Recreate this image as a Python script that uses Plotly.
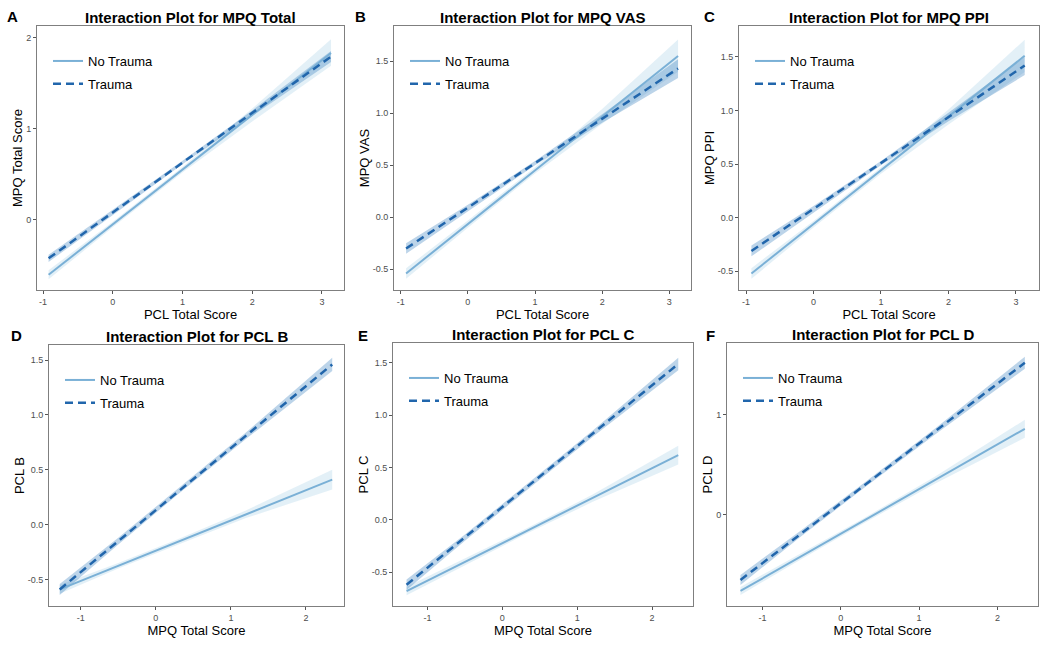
import plotly.graph_objects as go

# values (fitted lines and 95% bands, 5 points per panel)
x_pcl = [-0.92, 0.0, 1.0, 2.0, 3.13]
x_mpq = [-1.28, -0.5, 0.3, 1.2, 2.35]

# A: MPQ Total
a_nt = [-0.60, -0.05, 0.55, 1.15, 1.83]
a_nt_lo = [-0.65, -0.08, 0.52, 1.08, 1.69]
a_nt_hi = [-0.55, -0.02, 0.58, 1.22, 1.98]
a_t = [-0.42, 0.08, 0.63, 1.17, 1.79]
a_t_lo = [-0.46, 0.05, 0.61, 1.14, 1.73]
a_t_hi = [-0.38, 0.11, 0.65, 1.20, 1.85]

# B: MPQ VAS
b_nt = [-0.54, -0.065, 0.45, 0.97, 1.55]
b_nt_lo = [-0.59, -0.10, 0.42, 0.90, 1.40]
b_nt_hi = [-0.49, -0.03, 0.48, 1.04, 1.71]
b_t = [-0.30, 0.093, 0.52, 0.95, 1.43]
b_t_lo = [-0.35, 0.06, 0.50, 0.91, 1.34]
b_t_hi = [-0.25, 0.12, 0.54, 0.99, 1.52]

# C: MPQ PPI
c_nt = [-0.52, -0.059, 0.44, 0.94, 1.51]
c_nt_lo = [-0.57, -0.09, 0.41, 0.87, 1.36]
c_nt_hi = [-0.47, -0.03, 0.47, 1.01, 1.66]
c_t = [-0.31, 0.083, 0.51, 0.94, 1.42]
c_t_lo = [-0.36, 0.05, 0.49, 0.90, 1.33]
c_t_hi = [-0.26, 0.11, 0.53, 0.98, 1.50]

# D: PCL B
d_nt = [-0.59, -0.375, -0.155, 0.093, 0.41]
d_nt_lo = [-0.63, -0.40, -0.18, 0.06, 0.32]
d_nt_hi = [-0.55, -0.35, -0.13, 0.13, 0.50]
d_t = [-0.59, -0.149, 0.303, 0.81, 1.46]
d_t_lo = [-0.64, -0.18, 0.28, 0.78, 1.40]
d_t_hi = [-0.54, -0.12, 0.33, 0.84, 1.52]

# E: PCL C
e_nt = [-0.68, -0.40, -0.114, 0.208, 0.62]
e_nt_lo = [-0.72, -0.43, -0.14, 0.17, 0.53]
e_nt_hi = [-0.64, -0.37, -0.09, 0.24, 0.71]
e_t = [-0.62, -0.167, 0.298, 0.82, 1.49]
e_t_lo = [-0.67, -0.20, 0.27, 0.79, 1.43]
e_t_hi = [-0.57, -0.14, 0.33, 0.85, 1.55]

# F: PCL D
f_nt = [-0.76, -0.412, -0.055, 0.347, 0.86]
f_nt_lo = [-0.80, -0.44, -0.08, 0.31, 0.77]
f_nt_hi = [-0.72, -0.38, -0.03, 0.38, 0.95]
f_t = [-0.65, -0.183, 0.295, 0.833, 1.52]
f_t_lo = [-0.70, -0.21, 0.27, 0.80, 1.46]
f_t_hi = [-0.60, -0.15, 0.32, 0.86, 1.58]

# tick labels (ggplot style hyphen minus)
xt_pcl = [-1, 0, 1, 2, 3]
xt_pcl_lab = ["-1", "0", "1", "2", "3"]
xt_mpq = [-1, 0, 1, 2]
xt_mpq_lab = ["-1", "0", "1", "2"]
yt_int = [0, 1, 2]
yt_int_lab = ["0", "1", "2"]
yt_half = [-0.5, 0, 0.5, 1, 1.5]
yt_half_lab = ["-0.5", "0.0", "0.5", "1.0", "1.5"]
yt_f = [0, 1]
yt_f_lab = ["0", "1"]

panels = [
    ("A", "Interaction Plot for MPQ Total", "PCL Total Score", "MPQ Total Score", x_pcl,
     a_nt, a_nt_lo, a_nt_hi, a_t, a_t_lo, a_t_hi, xt_pcl, xt_pcl_lab, yt_int, yt_int_lab),
    ("B", "Interaction Plot for MPQ VAS", "PCL Total Score", "MPQ VAS", x_pcl,
     b_nt, b_nt_lo, b_nt_hi, b_t, b_t_lo, b_t_hi, xt_pcl, xt_pcl_lab, yt_half, yt_half_lab),
    ("C", "Interaction Plot for MPQ PPI", "PCL Total Score", "MPQ PPI", x_pcl,
     c_nt, c_nt_lo, c_nt_hi, c_t, c_t_lo, c_t_hi, xt_pcl, xt_pcl_lab, yt_half, yt_half_lab),
    ("D", "Interaction Plot for PCL B", "MPQ Total Score", "PCL B", x_mpq,
     d_nt, d_nt_lo, d_nt_hi, d_t, d_t_lo, d_t_hi, xt_mpq, xt_mpq_lab, yt_half, yt_half_lab),
    ("E", "Interaction Plot for PCL C", "MPQ Total Score", "PCL C", x_mpq,
     e_nt, e_nt_lo, e_nt_hi, e_t, e_t_lo, e_t_hi, xt_mpq, xt_mpq_lab, yt_half, yt_half_lab),
    ("F", "Interaction Plot for PCL D", "MPQ Total Score", "PCL D", x_mpq,
     f_nt, f_nt_lo, f_nt_hi, f_t, f_t_lo, f_t_hi, xt_mpq, xt_mpq_lab, yt_f, yt_f_lab),
]

W, H = 1050, 646
boxes = [(37, 344, 26, 290), (394, 691, 26, 290), (739, 1039, 26, 290),
         (49, 344, 345, 606), (393, 693, 343, 606), (727, 1038, 343, 606)]
xranges = [[-1.086, 3.316], [-1.10, 3.323], [-1.104, 3.342],
           [-1.423, 2.507], [-1.461, 2.547], [-1.452, 2.518]]
yranges = [[-0.767, 2.125], [-0.699, 1.839], [-0.674, 1.788],
           [-0.741, 1.637], [-0.823, 1.691], [-0.91, 1.717]]
letter_pos = [(12, 17), (360, 17), (709, 17), (16, 335), (363, 335), (710, 335)]

NT_COL = "#7ab0d6"
T_COL = "#2166ac"
NT_FILL = "rgba(107,174,214,0.19)"
T_FILL = "rgba(33,113,181,0.30)"
FONT = "Liberation Sans, Arial, sans-serif"

fig = go.Figure()
annotations = []
layout = {}

for i, p in enumerate(panels):
    (letter, title, xt, yt, xs, nt, nt_lo, nt_hi, t, t_lo, t_hi,
     xtv, xtl, ytv, ytl) = p
    n = i + 1
    xa = "x" if n == 1 else "x%d" % n
    ya = "y" if n == 1 else "y%d" % n
    leg = "legend" if n == 1 else "legend%d" % n

    # bands first
    fig.add_trace(go.Scatter(x=xs + xs[::-1], y=nt_lo + nt_hi[::-1], fill="toself",
                             fillcolor=NT_FILL, line=dict(width=0), mode="lines",
                             hoverinfo="skip", showlegend=False, xaxis=xa, yaxis=ya))
    fig.add_trace(go.Scatter(x=xs + xs[::-1], y=t_lo + t_hi[::-1], fill="toself",
                             fillcolor=T_FILL, line=dict(width=0), mode="lines",
                             hoverinfo="skip", showlegend=False, xaxis=xa, yaxis=ya))
    fig.add_trace(go.Scatter(x=xs, y=nt, mode="lines", name="No Trauma", legendgroup="nt",
                             line=dict(color=NT_COL, width=2),
                             legend=leg, xaxis=xa, yaxis=ya))
    fig.add_trace(go.Scatter(x=xs, y=t, mode="lines", name="Trauma", legendgroup="t",
                             line=dict(color=T_COL, width=2.5, dash="8px,5px"),
                             legend=leg, xaxis=xa, yaxis=ya))

    x0, x1, y0, y1 = boxes[i]
    dom_x = [x0 / W, x1 / W]
    dom_y = [1 - y1 / H, 1 - y0 / H]
    axis_common = dict(showline=True, mirror=True, linecolor="#7f7f7f", linewidth=1,
                       ticks="outside", ticklen=3, tickcolor="#555555", showgrid=False,
                       zeroline=False, tickfont=dict(size=9, color="#4d4d4d"),
                       automargin=False)
    layout["xaxis" if n == 1 else "xaxis%d" % n] = dict(
        domain=dom_x, range=xranges[i], anchor=ya, tickvals=xtv, ticktext=xtl,
        title=dict(text=xt, font=dict(size=13, color="black"), standoff=0),
        **axis_common)
    layout["yaxis" if n == 1 else "yaxis%d" % n] = dict(
        domain=dom_y, range=yranges[i], anchor=xa, tickvals=ytv, ticktext=ytl,
        title=dict(text=yt, font=dict(size=13, color="black"), standoff=0),
        **axis_common)
    layout[leg] = dict(x=(x0 + 11) / W, y=1 - (y0 + 20) / H, xanchor="left", yanchor="top",
                       bgcolor="rgba(0,0,0,0)", font=dict(size=13, color="black"),
                       itemwidth=30, tracegroupgap=3)

    annotations.append(dict(text="<b>%s</b>" % title, x=(x0 + x1) / 2 / W, y=1 - y0 / H,
                            xref="paper", yref="paper", xanchor="center", yanchor="bottom",
                            yshift=-2, showarrow=False, font=dict(size=15, color="black")))
    lx, ly = letter_pos[i]
    annotations.append(dict(text="<b>%s</b>" % letter, x=lx / W, y=1 - ly / H,
                            xref="paper", yref="paper", xanchor="center", yanchor="middle",
                            showarrow=False, font=dict(size=15, color="black")))

fig.update_layout(width=W, height=H, margin=dict(l=0, r=0, t=0, b=0),
                  plot_bgcolor="white", paper_bgcolor="white",
                  font=dict(family=FONT), annotations=annotations, **layout)

# drop the default 8px page margin so the figure sits at the window origin
fig.write_html("out.html", config={"displayModeBar": False},
               post_script="document.body.style.margin='0px';")
